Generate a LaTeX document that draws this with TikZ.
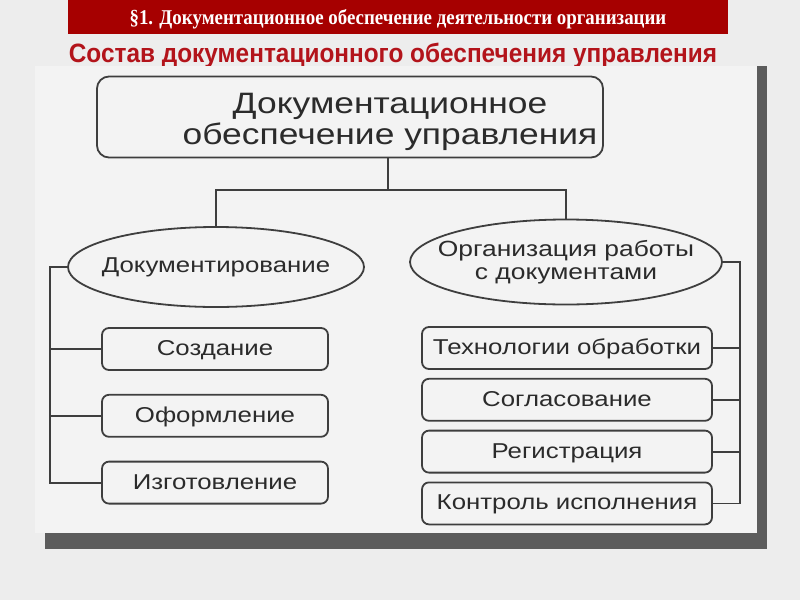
\documentclass[tikz,border=0pt]{standalone}
\usepackage{fontspec}
\setmainfont{Liberation Sans}
\newfontfamily\esc[FakeStretch=1.2]{Liberation Sans}
\newfontfamily\cabfont[FakeStretch=0.9]{Liberation Serif}
\newfontfamily\titfont[FakeStretch=0.92]{Liberation Sans}
\usepackage{tikz}
\usetikzlibrary{positioning,shapes.geometric}
\definecolor{bordo}{HTML}{A60000}
\definecolor{rojotit}{HTML}{B3141B}
\definecolor{trazo}{HTML}{3E3E3E}
\definecolor{texto}{HTML}{2B2B2B}
\definecolor{fondo}{HTML}{EDEDED}
\definecolor{hoja}{HTML}{F3F3F3}
\definecolor{sombra}{HTML}{5C5C5C}

\begin{document}
\begin{tikzpicture}[
  x=1pt, y=-1pt,
  font=\esc\fontsize{21.5}{24}\selectfont,
  node distance=23pt,
  raiz/.style={rectangle, rounded corners=12pt, draw=trazo, line width=1.8pt, minimum width=506pt, minimum height=81pt, inner sep=0pt, text=texto, font=\esc\fontsize{29.5}{31}\selectfont},
  elipse/.style={ellipse, draw=trazo, line width=1.8pt, inner xsep=-25pt, inner ysep=0pt, text=texto, align=center, font=\esc\fontsize{21.5}{23}\selectfont},
  caja/.style={rectangle, rounded corners=7pt, draw=trazo, line width=1.8pt, minimum height=42pt, inner sep=0pt, text height=18pt, text depth=5pt, text=texto},
  linea/.style={draw=trazo, line width=1.8pt}
]
\useasboundingbox (0,0) rectangle (800,600);
\fill[fondo] (0,0) rectangle (800,600);
% cabecera
\fill[bordo] (68,0) rectangle (728,34);
\node[text=white, font=\cabfont\bfseries\fontsize{21}{23}\selectfont] (cab) at (398,19) {§1. Документационное обеспечение деятельности организации};
\node[text=rojotit, font=\titfont\bfseries\fontsize{26.5}{28}\selectfont] (tit) at (393,56) {Состав документационного обеспечения управления};
% hoja escaneada
\fill[sombra] (45,66) rectangle (767,549);
\fill[hoja] (35,66) rectangle (757,533);
% esquema
\node[raiz] (dou) at (350,117) {\hspace*{80pt}\begin{tabular}{@{}c@{}}\rule{0pt}{34pt}Документационное\\обеспечение управления\end{tabular}};
\node[elipse, minimum width=296pt, minimum height=80pt] (docum) at (216,267) {Документирование};
\node[elipse, minimum width=312pt, minimum height=85pt, font=\esc\fontsize{22}{23}\selectfont] (orgrab) at (566,262) {Организация работы\\с документами};
\node[caja, minimum width=226pt] (sozd) at (215,349) {Создание};
\node[caja, minimum width=226pt, below=of sozd] (oform) {Оформление};
\node[caja, minimum width=226pt, below=of oform] (izgot) {Изготовление};
\node[caja, minimum width=290pt] (tecn) at (567,348) {Технологии обработки};
\node[caja, minimum width=290pt, below=8pt of tecn] (sogl) {Согласование};
\node[caja, minimum width=290pt, below=8pt of sogl] (reg) {Регистрация};
\node[caja, minimum width=290pt, below=8pt of reg] (kontr) {Контроль исполнения};
\coordinate (ramal) at (388,190);
\coordinate (ejeizq) at (50,267);
\coordinate (ejeder) at (740,262);
\draw[linea] (dou.south -| ramal) -- (ramal);
\draw[linea] (docum.north) |- (ramal) -| (orgrab.north);
\draw[linea] (docum.west) -- (ejeizq) |- (izgot.west);
\foreach \n in {sozd,oform}
  \draw[linea] (ejeizq |- \n.west) -- (\n.west);
\draw[linea] (orgrab.east) -- (ejeder) |- (kontr.east);
\foreach \n in {tecn,sogl,reg}
  \draw[linea] (ejeder |- \n.east) -- (\n.east);
\end{tikzpicture}
\end{document}
